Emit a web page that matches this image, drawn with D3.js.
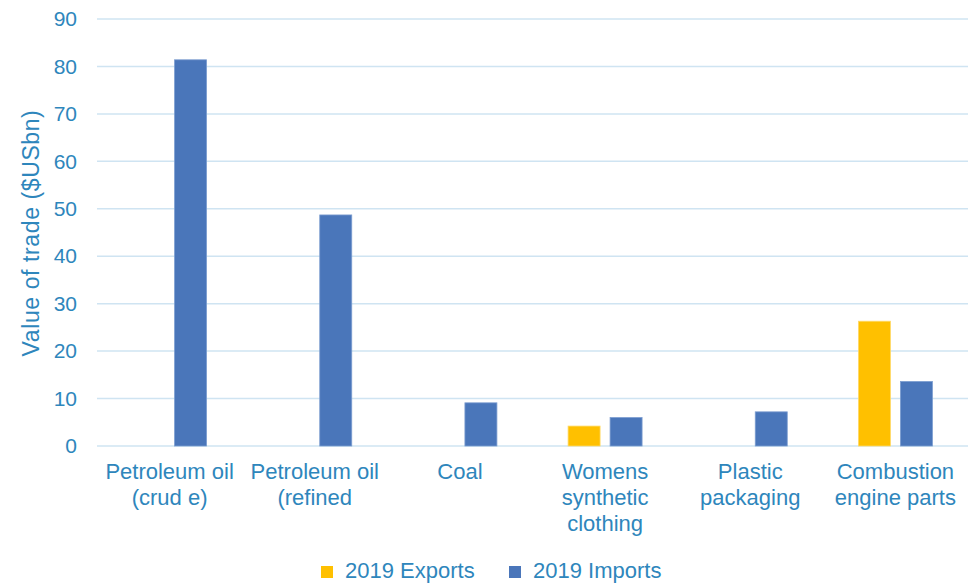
<!DOCTYPE html>
<html><head><meta charset="utf-8">
<script src="https://cdn.jsdelivr.net/npm/d3@7"></script>
<style>body{margin:0;background:#fff}text{font-family:"Liberation Sans",Arial,sans-serif}</style>
</head><body><svg id="c" width="976" height="584"></svg>
<script>
const categories = [["Petroleum oil","(crud e)"],["Petroleum oil","(refined"],["Coal"],["Womens","synthetic","clothing"],["Plastic","packaging"],["Combustion","engine parts"]];
const seriesNames = ["2019 Exports","2019 Imports"];
const exportsValues = [null, null, null, 4.2, null, 26.3];
const importsValues = [81.4, 48.7, 9.1, 6.0, 7.2, 13.6];
const yTicks = [0,10,20,30,40,50,60,70,80,90];
const colors = ["#FFC000","#4A76BA"];
const textColor = "#2E86BC";

(function(){
const svg = d3.select("#c");
const mL = 97, mR = 968, mT = 19, mB = 446;
const x = d3.scaleBand().domain(d3.range(categories.length)).range([mL, mR]).paddingInner(0).paddingOuter(0);
const y = d3.scaleLinear().domain([0,90]).range([mB, mT]);
const barW = 32, gap = 10;

const grid = svg.append("g");
yTicks.forEach(t => {
  grid.append("line").attr("x1", mL).attr("x2", mR).attr("y1", y(t)).attr("y2", y(t))
    .attr("stroke", "#CFE4F2").attr("stroke-width", 1.5);
});
const yAxis = d3.axisLeft(y).tickValues(yTicks).tickSize(0).tickPadding(20);
const ga = svg.append("g").attr("transform", `translate(${mL},0)`).call(yAxis);
ga.select(".domain").remove();
ga.selectAll("text").attr("fill", textColor).style("font-size", "21px").style("font-family", '"Liberation Sans",Arial,sans-serif');

const series = [exportsValues, importsValues];
series.forEach((vals, si) => {
  svg.append("g").selectAll("rect").data(vals.map((v,i)=>({v,i})).filter(d=>d.v!=null)).join("rect")
    .attr("x", d => x(d.i) + x.bandwidth()/2 + (si===0 ? -gap/2 - barW : gap/2))
    .attr("y", d => y(d.v)).attr("width", barW).attr("height", d => y(0) - y(d.v))
    .attr("fill", colors[si]).attr("stroke", si===0 ? "#FFD966" : "#7C9DD0").attr("stroke-width", 0.8);
});

categories.forEach((lines, i) => {
  const t = svg.append("text").attr("text-anchor", "middle").attr("fill", textColor).style("font-size", "22px");
  lines.forEach((ln, j) => t.append("tspan").attr("x", x(i) + x.bandwidth()/2).attr("y", 479 + j*26).text(ln));
});

svg.append("text").attr("transform", "translate(39,233) rotate(-90)").attr("text-anchor", "middle")
  .attr("fill", textColor).style("font-size", "23px").style("letter-spacing", "0.6px").text("Value of trade ($USbn)");

const legX = [321, 509];
seriesNames.forEach((n, i) => {
  svg.append("rect").attr("x", legX[i]).attr("y", 566).attr("width", 12).attr("height", 12).attr("fill", colors[i]);
  svg.append("text").attr("x", legX[i] + 24).attr("y", 578).attr("fill", textColor).style("font-size", "22px").text(n);
});
})();
</script></body></html>
